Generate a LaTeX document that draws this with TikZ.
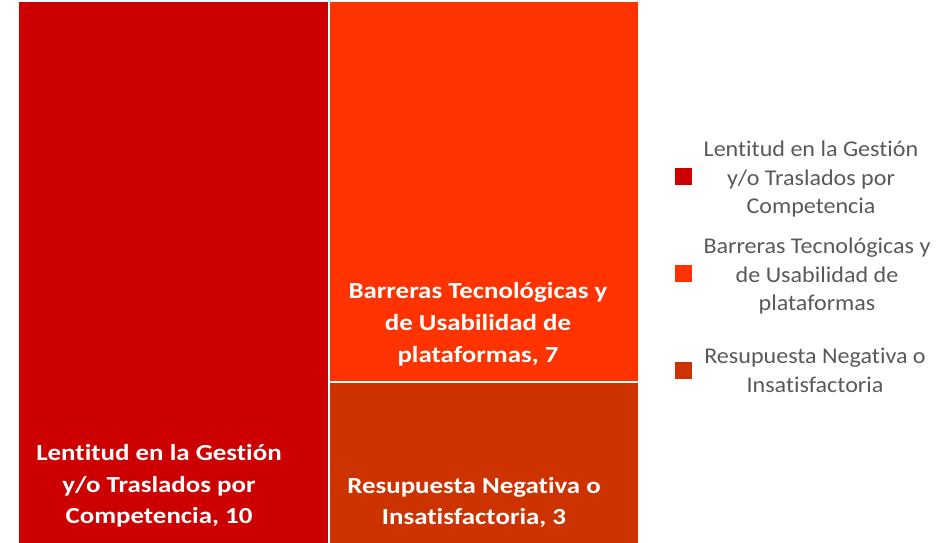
\documentclass[tikz,border=0pt]{standalone}
\usepackage{fontspec}
\setmainfont{Carlito}[Ligatures=NoCommon]
\newfontfamily\boxfont{Carlito}[FakeStretch=1.17, Ligatures=NoCommon]
\newfontfamily\legfont{Carlito}[FakeStretch=1.07, Ligatures=NoCommon]
\definecolor{cA}{HTML}{CC0000}
\definecolor{cB}{HTML}{FF3300}
\definecolor{cC}{HTML}{CC3300}
\definecolor{legtext}{HTML}{595959}
\tikzset{
  boxtxt/.style={anchor=base, inner sep=0pt, text=white, font=\boxfont\bfseries\fontsize{23}{27}\selectfont},
  legtxt/.style={anchor=base, inner sep=0pt, text=legtext, font=\legfont\fontsize{22.5}{27}\selectfont},
  legsq/.style={fill=#1, draw=none},
}
\begin{document}
\begin{tikzpicture}[x=1pt,y=-1pt]
\useasboundingbox (0,0) rectangle (951,543);
% tiles
\fill[cA] (19,2) rectangle (327.5,543);
\fill[cB] (329.5,2) rectangle (638,381);
\fill[cC] (329.5,383) rectangle (638,543);
% left tile text
\node[boxtxt] (a1) at (159,460) {Lentitud en la Gestión};
\node[boxtxt] (a2) at (159,492) {y/o Traslados por};
\node[boxtxt] (a3) at (159,523) {Competencia, 10};
% top right tile text
\node[boxtxt] (b1) at (478,298) {Barreras Tecnológicas y};
\node[boxtxt] (b2) at (478,330) {de Usabilidad de};
\node[boxtxt] (b3) at (478,362) {plataformas, 7};
% bottom right tile text
\node[boxtxt] (c1) at (474,493) {Resupuesta Negativa o};
\node[boxtxt] (c2) at (474,524) {Insatisfactoria, 3};
% legend
\fill[legsq=cA] (675,168) rectangle (692,185);
\fill[legsq=cB] (675,265) rectangle (692,282);
\fill[legsq=cC] (675,362) rectangle (692,379);
\node[legtxt] (l1) at (811,156) {Lentitud en la Gestión};
\node[legtxt] (l2) at (811,185) {y/o Traslados por};
\node[legtxt] (l3) at (811,213) {Competencia};
\node[legtxt] (l4) at (817,253) {Barreras Tecnológicas y};
\node[legtxt] (l5) at (817,282) {de Usabilidad de};
\node[legtxt] (l6) at (817,310) {plataformas};
\node[legtxt] (l7) at (815,363) {Resupuesta Negativa o};
\node[legtxt] (l8) at (815,392) {Insatisfactoria};
\end{tikzpicture}
\end{document}
